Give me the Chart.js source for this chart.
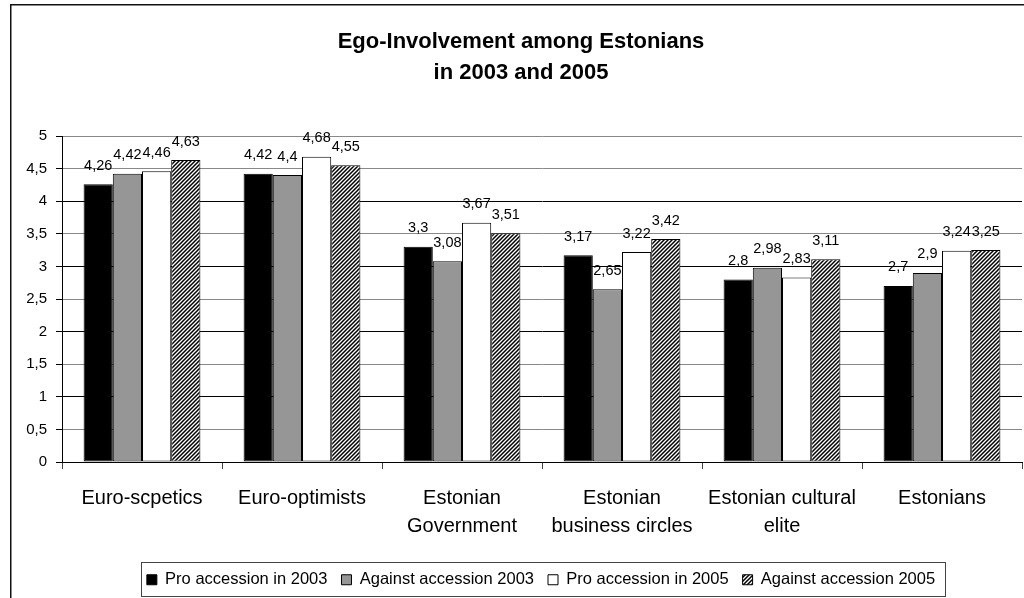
<!DOCTYPE html>
<html>
<head>
<meta charset="utf-8">
<title>Ego-Involvement among Estonians</title>
<script src="https://cdn.jsdelivr.net/npm/chart.js@4/dist/chart.umd.min.js"></script>
<style>
  html, body { margin: 0; padding: 0; background: #fff; overflow: hidden; }
  #chart { display: block; }
</style>
</head>
<body>
<canvas id="chart" width="1024" height="598"></canvas>
<script>
// Podaci
let categories = ['Euro-scpetics', 'Euro-optimists', ['Estonian', 'Government'],
  ['Estonian', 'business circles'], ['Estonian cultural', 'elite'], 'Estonians'];
let proAccession2003 = [4.26, 4.42, 3.3, 3.17, 2.8, 2.7];
let againstAccession2003 = [4.42, 4.4, 3.08, 2.65, 2.98, 2.9];
let proAccession2005 = [4.46, 4.68, 3.67, 3.22, 2.83, 3.24];
let againstAccession2005 = [4.63, 4.55, 3.51, 3.42, 3.11, 3.25];
let seriesNames = ['Pro accession in 2003', 'Against accession 2003', 'Pro accession in 2005', 'Against accession 2005'];
let yMin = 0, yMax = 5, yStep = 0.5;

const FONT = "'Liberation Sans', Arial, sans-serif";

function comma(v) {
  return String(v).replace('.', ',');
}

// diagonalni uzorak za zadnju seriju
function hatch() {
  let c = document.createElement('canvas');
  c.width = 4;
  c.height = 4;
  let g = c.getContext('2d');
  g.fillStyle = '#fff';
  g.fillRect(0, 0, 4, 4);
  g.strokeStyle = '#000';
  g.lineWidth = 1.5;
  g.beginPath();
  g.moveTo(0, 4); g.lineTo(4, 0);
  g.moveTo(-1, 1); g.lineTo(1, -1);
  g.moveTo(3, 5); g.lineTo(5, 3);
  g.stroke();
  return g.createPattern(c, 'repeat');
}

// okvir oko cijelog grafa
const frame = {
  id: 'frame',
  beforeDraw(chart) {
    let ctx = chart.ctx;
    ctx.save();
    ctx.fillStyle = '#fff';
    ctx.fillRect(0, 0, chart.width, chart.height);
    ctx.strokeStyle = '#111';
    ctx.lineWidth = 1.5;
    ctx.beginPath();
    ctx.moveTo(10.75, chart.height + 2);
    ctx.lineTo(10.75, 4.75);
    ctx.lineTo(chart.width + 2, 4.75);
    ctx.stroke();
    ctx.restore();
  }
};

// naslov i legenda malo udesno, okvir oko legende
const shift = {
  id: 'shift',
  afterLayout(chart) {
    chart.titleBlock.left += 10;
    chart.titleBlock.right += 10;
    chart.legend.left += 30;
    chart.legend.right += 30;
  },
  afterDraw(chart) {
    let boxes = chart.legend.legendHitBoxes;
    if (!boxes || !boxes.length) return;
    let first = boxes[0], last = boxes[boxes.length - 1];
    let x1 = Math.round(first.left - 6) + 0.5;
    let x2 = Math.round(last.left + last.width + 10) + 0.5;
    let cy = first.top + first.height / 2;
    let y1 = Math.round(cy - 18) + 0.5;
    let y2 = Math.round(cy + 16) + 0.5;
    let ctx = chart.ctx;
    ctx.save();
    ctx.strokeStyle = '#444';
    ctx.lineWidth = 1;
    ctx.strokeRect(x1, y1, x2 - x1, y2 - y1);
    ctx.restore();
  }
};

// vrijednosti iznad stupaca
const valueLabels = {
  id: 'valueLabels',
  afterDatasetsDraw(chart) {
    let ctx = chart.ctx;
    ctx.save();
    ctx.font = '14.5px ' + FONT;
    ctx.fillStyle = '#000';
    ctx.textAlign = 'center';
    ctx.textBaseline = 'alphabetic';
    chart.data.datasets.forEach((ds, i) => {
      chart.getDatasetMeta(i).data.forEach((bar, j) => {
        ctx.fillText(comma(ds.data[j]), bar.x, bar.y - 14.5);
      });
    });
    ctx.restore();
  }
};

let ctx = document.getElementById('chart').getContext('2d');

let chart = new Chart(ctx, {
  type: 'bar',
  data: {
    labels: categories,
    datasets: [
      { label: seriesNames[0], data: proAccession2003, backgroundColor: '#000' },
      { label: seriesNames[1], data: againstAccession2003, backgroundColor: '#969696' },
      { label: seriesNames[2], data: proAccession2005, backgroundColor: '#fff' },
      { label: seriesNames[3], data: againstAccession2005, backgroundColor: hatch() }
    ].map(d => Object.assign(d, {
      borderColor: '#000',
      borderWidth: 1,
      borderSkipped: false,
      categoryPercentage: 0.73,
      barPercentage: 1
    }))
  },
  options: {
    responsive: false,
    animation: false,
    devicePixelRatio: 1,
    layout: { padding: { left: 0, right: 2, top: 0, bottom: 0 } },
    plugins: {
      title: {
        display: true,
        text: ['Ego-Involvement among Estonians', 'in 2003 and 2005'],
        color: '#000',
        font: { family: FONT, size: 22, weight: 'bold', lineHeight: 31 / 22 },
        padding: { top: 26.5, bottom: 47.5 }
      },
      legend: {
        position: 'bottom',
        labels: {
          color: '#000',
          font: { family: FONT, size: 16.5 },
          boxWidth: 10,
          boxHeight: 10,
          padding: 14
        }
      },
      tooltip: { enabled: false }
    },
    scales: {
      x: {
        afterFit(scale) { scale.height = 95.5; },
        grid: {
          offset: true,
          drawOnChartArea: false,
          tickLength: 7,
          color: '#444'
        },
        border: { color: '#000' },
        ticks: {
          color: '#000',
          padding: 15,
          maxRotation: 0,
          autoSkip: false,
          font: { family: FONT, size: 20, lineHeight: 1.4 }
        }
      },
      y: {
        min: yMin,
        max: yMax,
        afterFit(scale) { scale.width = 62; },
        grid: {
          tickLength: 6,
          color: c => (c.tick && c.tick.value % 1 === 0 && c.tick.value !== yMax) ? '#000' : '#888',
          tickColor: '#000'
        },
        border: { color: '#000' },
        ticks: {
          stepSize: yStep,
          color: '#000',
          padding: 9,
          font: { family: FONT, size: 15 },
          callback: v => comma(v)
        }
      }
    }
  },
  plugins: [frame, shift, valueLabels]
});
</script>
</body>
</html>
